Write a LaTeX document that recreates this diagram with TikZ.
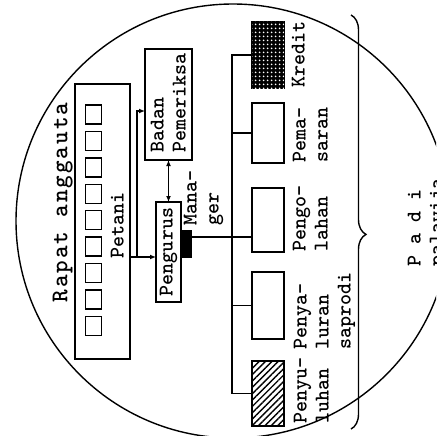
\documentclass[tikz,border=0pt]{standalone}
\usepackage{fontspec}
\usepackage{tikz}
\usetikzlibrary{positioning, calc, arrows.meta}
\usetikzlibrary{decorations.pathreplacing}
\usetikzlibrary{patterns, patterns.meta}
\tikzset{every picture/.append style={line width=1.4pt}}
\newfontfamily\ketik{lmmonolt10-bold.otf}
\newfontfamily\ketikbesar[LetterSpace=8]{lmmonolt10-bold.otf}
\newcommand{\lblfont}{\fontsize{21}{22}\selectfont\ketik}
\newcommand{\bigfont}{\fontsize{24}{26}\selectfont\ketikbesar}
\tikzset{
    box/.style={draw, inner sep=0pt, outer sep=0pt},
    lbl/.style={rotate=90, anchor=north west, inner sep=0pt, align=left, font=\lblfont},
    tip/.style={-{Latex[length=6pt,width=5pt]}}
}

\begin{document}
\begin{tikzpicture}[x=1pt, y=-1pt]
    \useasboundingbox (0,0) rectangle (436,436);
    \clip (0,0) rectangle (436,436);
    \draw (233,221) circle[radius=217pt];

    \node[box, minimum width=55pt, minimum height=275pt] (rapat) at (102.5,221.5) {};
    \node[lbl, font=\bigfont] (rapatlbl) at (52,303) {Rapat anggauta};
    \foreach \i in {0,...,8}
        \node[box, minimum width=16pt, minimum height=19pt] (petani\i) at (93.5,114.5+26.4*\i) {};
    \node[lbl] (petanilbl) at (110,259) {Petani};

    \node[box, minimum width=25pt, minimum height=100pt] (pengurus) at (168.5,252) {};
    \node[lbl, anchor=center] (penguruslbl) at (pengurus) {Pengurus};
    \node[box, fill=black, minimum width=10pt, minimum height=26pt] (manajer) at (186,244) {};
    \node[lbl] (manajerlbl) at (183,226) {Mana-\\ger};
    \node[box, minimum width=47pt, minimum height=111pt] (badan) at (168.5,104.5) {};
    \node[lbl] (badanlbl) at (150,153) {Badan\\Pemeriksa};

    \node[box, minimum width=32pt, minimum height=66pt, fill=black,
          postaction={pattern={Dots[distance=4pt, radius=1.1pt]}, pattern color=white}] (kredit) at (268,55) {};
    \node[box, minimum width=32pt, minimum height=60pt] (pemasaran) at (268,133) {};
    \node[box, minimum width=32pt, minimum height=64pt] (pengolahan) at (268,220) {};
    \node[box, minimum width=32pt, minimum height=67pt] (penyaluran) at (268,305.5) {};
    \node[box, minimum width=32pt, minimum height=65pt,
          pattern={Lines[angle=45, distance=4.5pt, line width=1.4pt]}] (penyuluhan) at (268,393.5) {};

    \node[lbl] (kreditlbl) at (291,88) {Kredit};
    \node[lbl] (pemasaranlbl) at (292,163) {Pema-\\saran};
    \node[lbl] (pengolahanlbl) at (292,252) {Pengo-\\lahan};
    \node[lbl] (penyaluranlbl) at (293,350) {Penya-\\luran\\saprodi};
    \node[lbl] (penyuluhanlbl) at (293,424) {Penyu-\\luhan};
    \node[lbl] (komoditas) at (407,267) {P a d i\\palawija};

    \coordinate (cabang) at (137,257);
    \coordinate (jalur) at (232,237);
    \draw[tip] (rapat.east |- cabang) -- (pengurus.west |- cabang);
    \draw[tip] (cabang) |- ($(badan.west)+(0,6.5)$);
    \draw[{Latex[length=6pt,width=5pt]}-{Latex[length=6pt,width=5pt]}] (pengurus.north) -- (badan.south);
    \draw (manajer.east |- jalur) -- (pengolahan.west |- jalur);
    \draw (kredit.west) -| (jalur) |- (penyuluhan.west);
    \draw (pemasaran.west) -- (pemasaran.west -| jalur);
    \draw (penyaluran.west) -- (penyaluran.west -| jalur);

    \draw[decorate, decoration={brace, amplitude=15pt, aspect=0.53}] (351,15) -- (351,429);
\end{tikzpicture}
\end{document}
